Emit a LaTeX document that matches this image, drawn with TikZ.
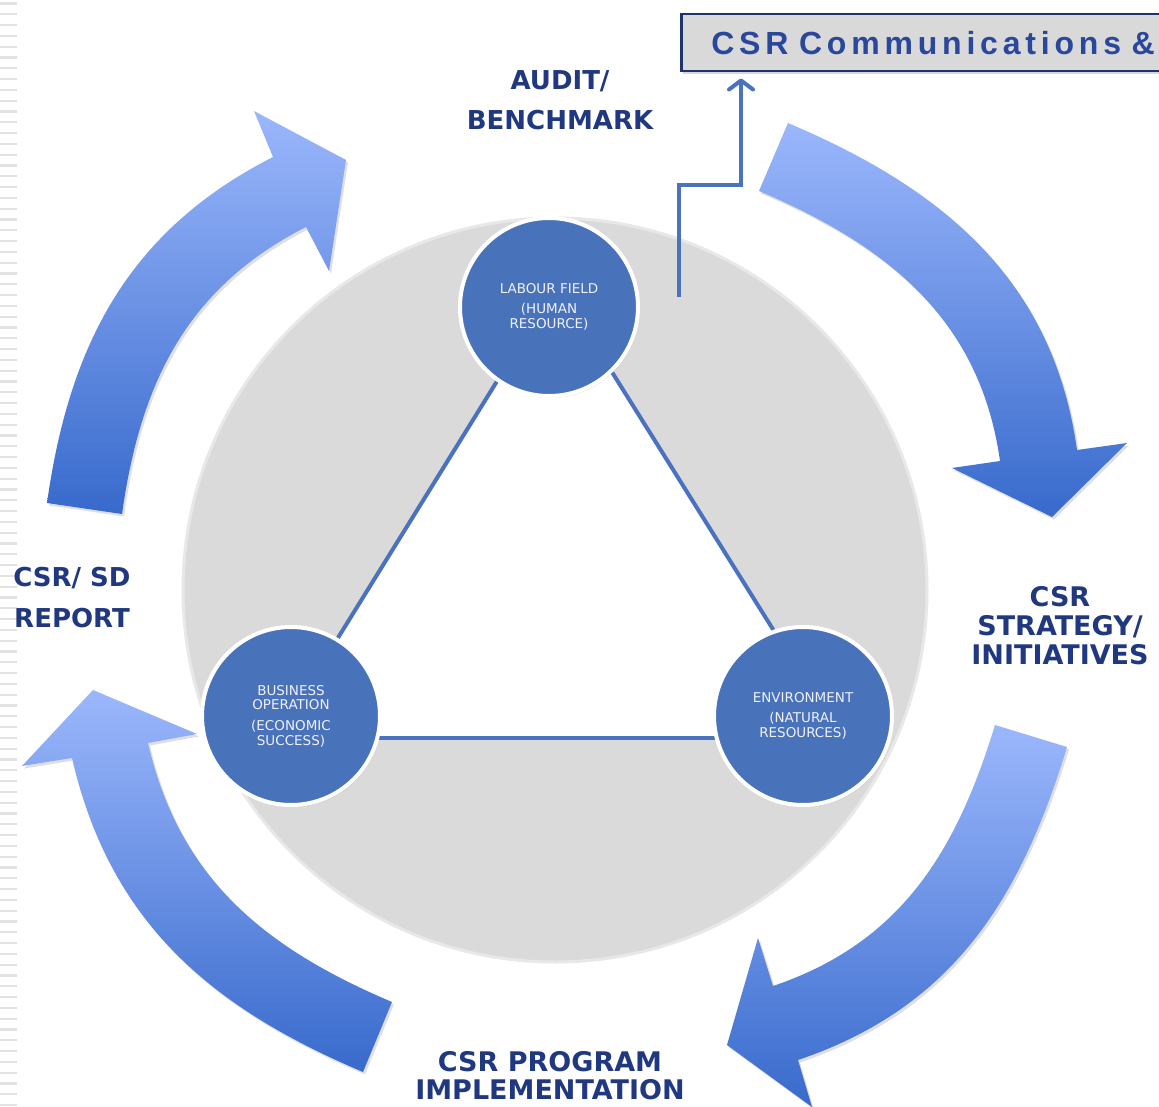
\documentclass[tikz,border=0pt]{standalone}
\usepackage{fontspec}
\setmainfont{DejaVu Sans}
\newfontfamily\boxfont[LetterSpace=15.0]{Liberation Sans}
\usetikzlibrary{shadows,arrows.meta,calc}
\pgfdeclarelayer{back}
\pgfdeclarelayer{mid}
\pgfsetlayers{back,mid,main}
\definecolor{navy}{RGB}{32,56,128}
\definecolor{boxtext}{RGB}{42,72,155}
\definecolor{boxborder}{RGB}{31,52,110}
\definecolor{boxfill}{RGB}{217,217,217}
\definecolor{nodeblue}{RGB}{72,114,185}
\definecolor{linkblue}{RGB}{74,114,190}
\definecolor{arrlight}{RGB}{155,183,252}
\definecolor{arrdark}{RGB}{56,106,204}
\definecolor{discgray}{RGB}{218,218,218}
\definecolor{discedge}{RGB}{232,232,232}
\definecolor{stripegray}{RGB}{226,226,226}
\begin{document}
\begin{tikzpicture}[x=1pt,y=-1pt,
  stripe/.style={draw=stripegray,line width=2.2pt},
  hub/.style={circle,fill=nodeblue,draw=white,line width=4pt,minimum size=178pt,inner sep=0pt,
    text=white!94!blue,align=center,font=\fontsize{13.5}{14.5}\selectfont,
    drop shadow={opacity=0.22,shadow xshift=1.5pt,shadow yshift=-2pt}},
  link/.style={draw=linkblue,line width=4pt},
  feed/.style={draw=linkblue,line width=4pt,-{Straight Barb[length=9pt,width=24pt,round]}},
  bigarrow/.style={top color=arrlight,bottom color=arrdark,
    drop shadow={opacity=0.25,shadow xshift=2pt,shadow yshift=-2.5pt}},
  lbl/.style={text=navy,align=center,inner sep=0pt},
  cbox/.style={draw=boxborder,line width=2.5pt,fill=boxfill,minimum height=57pt,
    text width=700pt,inner xsep=30pt,inner ysep=0pt,align=left,text=boxtext,
    font=\boxfont\bfseries\fontsize{32}{34}\selectfont,
    drop shadow={opacity=0.3,shadow xshift=2pt,shadow yshift=-3pt}}]
\useasboundingbox (0,0) rectangle (1159,1107);

% grey disc and white triangle
\begin{pgfonlayer}{back}
\fill[white] (0,0) rectangle (1159,1107);
\foreach \i in {0,...,102}
  \draw[stripe] (0,{3.5+10.8*\i}) -- (17,{3.5+10.8*\i});
\draw[fill=discgray,draw=discedge,line width=3pt] (555,590) circle[radius=372];
\fill[white] (556,284) -- (276,738) -- (840,738) -- cycle;
\end{pgfonlayer}

% cycle arrows
\path[bigarrow] (788,123) to[out=-23,in=98] (1077,450) -- (1127,443) -- (1052,517)
  -- (952,468) -- (1000,461) to[out=98,in=-23] (759,191) -- cycle;
\path[bigarrow] (1067,747) to[out=253,in=18.7] (798,1060) -- (812,1107) -- (727,1045)
  -- (758,938) -- (773,986) to[out=18.7,in=253] (995,725) -- cycle;
\path[bigarrow] (363,1072) to[out=157,in=-77] (72,758) -- (22,766) -- (93,690)
  -- (197,734) -- (148,743) to[out=-77,in=157] (392,1002) -- cycle;
\path[bigarrow] (47,503) to[out=82,in=207] (273,157) -- (254,111) -- (346,160)
  -- (329,271) -- (306,227) to[out=207,in=82] (122,514) -- cycle;

% hubs
\node[hub,font=\fontsize{13.5}{15}\selectfont] (lab) at (549,307) {LABOUR FIELD\\[5pt](HUMAN\\RESOURCE)};
\node[hub] (bus) at (291,716) {BUSINESS\\OPERATION\\[6.5pt](ECONOMIC\\SUCCESS)};
\node[hub,font=\fontsize{13.5}{15}\selectfont] (env) at (803,716) {ENVIRONMENT\\[5pt](NATURAL\\RESOURCES)};

\begin{pgfonlayer}{mid}
\draw[link] (lab.235) -- (bus.59);
\draw[link] (lab.-46) -- (env.109);
\draw[link] (bus.-14) -- (env.194);
\end{pgfonlayer}

% communications box
\node[cbox,anchor=north west] (box) at (680,13) {CSR Communications \&};
\coordinate (src) at (679,297);
\coordinate (tip) at ($(box.south west)+(61,6)$);
\draw[feed] (src) -- ++(0,-112) -| (tip);

% stage labels
\node[lbl,font=\bfseries\fontsize{26}{40}\selectfont] (audit) at (560,100) {AUDIT/\\BENCHMARK};
\node[lbl,font=\bfseries\fontsize{27}{29}\selectfont] (strat) at (1060,626) {CSR\\STRATEGY/\\INITIATIVES};
\node[lbl,font=\bfseries\fontsize{27}{28}\selectfont] (impl) at (550,1076) {CSR PROGRAM\\IMPLEMENTATION};
\node[lbl,font=\bfseries\fontsize{26}{41}\selectfont] (rep) at (72,598) {CSR/ SD\\REPORT};
\end{tikzpicture}
\end{document}
